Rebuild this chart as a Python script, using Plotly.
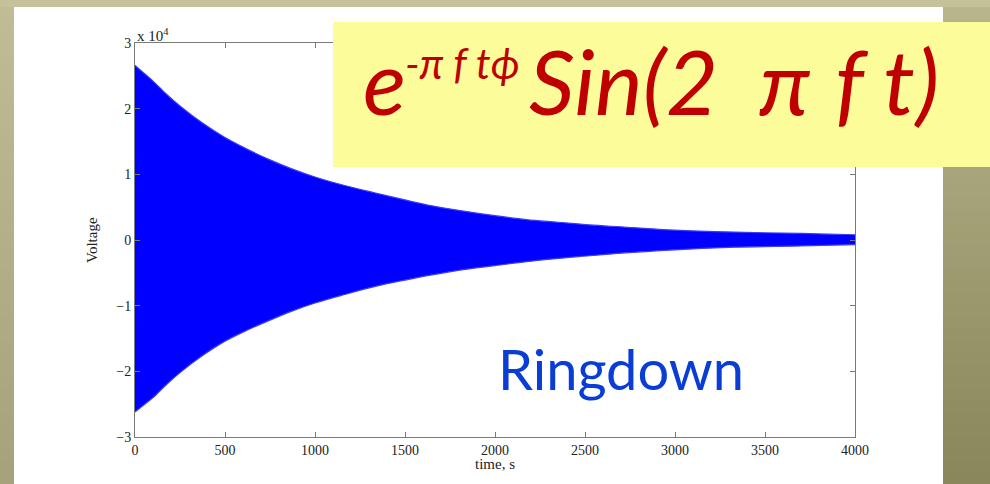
import plotly.graph_objects as go

# Envelope of the ringdown signal (voltage in units of 1e4)
time_s = [0, 50, 100, 175, 250, 375, 500, 625, 750, 875, 1000, 1165, 1330, 1500, 1650,
          1825, 2000, 2175, 2350, 2525, 2700, 3000, 3333, 3700, 4000]
upper_env = [2.66, 2.54, 2.42, 2.22, 2.04, 1.78, 1.56, 1.38, 1.22, 1.08, 0.96, 0.83, 0.72,
             0.61, 0.52, 0.44, 0.37, 0.31, 0.27, 0.23, 0.20, 0.15, 0.12, 0.10, 0.08]
lower_env = [-2.62, -2.51, -2.40, -2.20, -2.02, -1.76, -1.54, -1.37, -1.22, -1.08, -0.96,
             -0.83, -0.71, -0.61, -0.53, -0.45, -0.39, -0.33, -0.28, -0.24, -0.20, -0.15,
             -0.11, -0.09, -0.07]

x_ticks = [0, 500, 1000, 1500, 2000, 2500, 3000, 3500, 4000]
y_ticks = [-3, -2, -1, 0, 1, 2, 3]

W, H = 990, 484
L, R, T, B = 135, 135, 43, 47
PW, PH = W - L - R, H - T - B


def px(x):
    return (x - L) / PW


def py(y):
    return (H - B - y) / PH


fig = go.Figure()
fig.add_trace(go.Scatter(x=time_s, y=upper_env, mode="lines",
                         line=dict(color="#3c3cf2", width=1.2, shape="spline"),
                         showlegend=False, hoverinfo="skip"))
fig.add_trace(go.Scatter(x=time_s, y=lower_env, mode="lines", fill="tonexty",
                         fillcolor="#0000ff",
                         line=dict(color="#3c3cf2", width=1.2, shape="spline"),
                         showlegend=False, hoverinfo="skip"))

shapes = []
# white slide panel
shapes.append(dict(type="rect", xref="paper", yref="paper", layer="below",
                   x0=px(14), x1=px(943), y0=py(500), y1=py(7),
                   fillcolor="white", line=dict(width=0)))
n = 40
# right strip gradient
c_top = (184, 180, 140)
c_bot = (138, 135, 92)
for i in range(n):
    f = i / (n - 1)
    col = tuple(int(c_top[k] + (c_bot[k] - c_top[k]) * f) for k in range(3))
    y0 = 7 + (H - 7) * i / n
    y1 = 7 + (H - 7) * (i + 1) / n
    shapes.append(dict(type="rect", xref="paper", yref="paper", layer="below",
                       x0=px(943), x1=px(995), y0=py(y1 + 1), y1=py(y0),
                       fillcolor="rgb(%d,%d,%d)" % col, line=dict(width=0)))
# left strip darker toward bottom
c_ltop = (192, 188, 150)
c_lbot = (166, 162, 121)
for i in range(n):
    f = i / (n - 1)
    col = tuple(int(c_ltop[k] + (c_lbot[k] - c_ltop[k]) * f) for k in range(3))
    y0 = 7 + (H - 7) * i / n
    y1 = 7 + (H - 7) * (i + 1) / n
    shapes.append(dict(type="rect", xref="paper", yref="paper", layer="below",
                       x0=px(-5), x1=px(14), y0=py(y1 + 1), y1=py(y0),
                       fillcolor="rgb(%d,%d,%d)" % col, line=dict(width=0)))
# yellow formula box
shapes.append(dict(type="rect", xref="paper", yref="paper", layer="above",
                   x0=px(333), x1=px(995), y0=py(167), y1=py(22),
                   fillcolor="#fdfc9b", line=dict(width=0)))

red = "#c00000"


def txt(s, x, y, size, color, family="Lato", style="normal", xanchor="left", angle=0):
    return dict(text=s, xref="paper", yref="paper", x=px(x), y=py(y),
                xanchor=xanchor, yanchor="middle", showarrow=False, textangle=angle,
                borderpad=0,
                font=dict(family=family, size=size, color=color, style=style))


serif = "Liberation Serif"
annotations = [
    txt("x 10<sup>4</sup>", 136, 35, 15, "#222", family=serif),
    # formula: e^{-pi f t phi} Sin(2 pi f t)
    txt("e", 362, 80, 90, red, style="italic"),
    txt("-\u03c0 f t\u03d5", 404, 63, 42, red, style="italic"),
    txt("Sin(2", 528, 80, 90, red, style="italic"),
    txt("\u03c0", 758, 80, 90, red, style="italic"),
    txt("f", 834, 80, 90, red, style="italic"),
    txt("t", 882, 80, 90, red, style="italic"),
    txt(")", 913, 80, 90, red, style="italic"),
    txt("Ringdown", 621, 368, 56, "#0a3cd6", xanchor="center"),
    txt("Voltage", 92, 240, 15, "#222", family=serif, xanchor="center", angle=-90),
    txt("time, s", 495, 464, 15, "#222", family=serif, xanchor="center"),
]

axis_common = dict(showline=True, linecolor="#7a7a7a", linewidth=1, mirror="ticks",
                   ticks="inside", ticklen=5, tickcolor="#7a7a7a", showgrid=False,
                   zeroline=False, tickfont=dict(family=serif, size=14, color="#222"))

fig.update_layout(
    width=W, height=H,
    margin=dict(l=L, r=R, t=T, b=B),
    paper_bgcolor="#c5c19b",
    plot_bgcolor="white",
    shapes=shapes,
    annotations=annotations,
    xaxis=dict(range=[0, 4000], tickvals=x_ticks, ticktext=[str(v) for v in x_ticks], **axis_common),
    yaxis=dict(range=[-3, 3], tickvals=y_ticks,
               ticktext=[("\u2212" + str(-v)) if v < 0 else str(v) for v in y_ticks], **axis_common),
)

fig.write_html("out.html")
